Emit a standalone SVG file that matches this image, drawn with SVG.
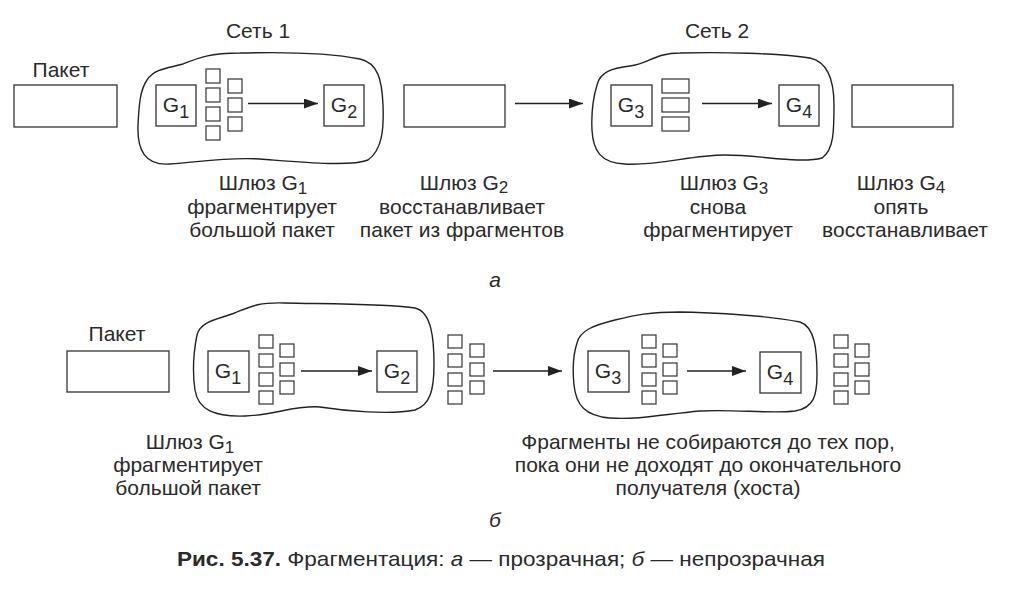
<svg xmlns="http://www.w3.org/2000/svg" width="1020" height="591" viewBox="0 0 1020 591">
<defs>
<marker id="ah" viewBox="0 0 14 10" refX="14" refY="5" markerWidth="14" markerHeight="10" markerUnits="userSpaceOnUse" orient="auto">
<path d="M0,0 L14,5 L0,10 Z" fill="#222"/>
</marker>
<style>
.t{font-family:"Liberation Sans",Arial,sans-serif;font-size:21px;fill:#2a2a2a;text-anchor:middle}
.sub{font-size:18px}
.lsub{font-size:17px}
.box{fill:#fff;stroke:#333;stroke-width:1.3}
.sq{fill:#fff;stroke:#333;stroke-width:1.2}
.cloud{fill:none;stroke:#222;stroke-width:1.4}
.conn{stroke:#222;stroke-width:1.3;fill:none;marker-end:url(#ah)}
.cap{font-family:"Liberation Sans",Arial,sans-serif;font-size:21px;fill:#2a2a2a;text-anchor:middle}
</style>
</defs>
<rect width="1020" height="591" fill="#fff"/>

<!-- part a -->
<g id="net1a">
<path class="cloud" d="M 147,80 C 155,68 170,68 183,64 C 198,58 210,53 240,53 C 280,52 330,53 360,59 C 378,63 382,80 383,105 C 384,130 382,150 368,160 C 350,167 300,162 260,159 C 225,157 200,162 170,164 C 145,166 137,150 138,125 C 139,105 140,90 147,80 Z"/>
<text class="t" x="258" y="38">Сеть 1</text>
</g>
<g id="net2a">
<path class="cloud" d="M 597,85 C 600,72 612,68 630,66 C 648,64 655,53 680,53 C 720,52 780,53 810,58 C 828,62 834,80 834,105 C 834,130 834,150 822,158 C 800,164 760,155 725,155 C 690,155 660,166 625,164 C 600,163 593,150 592,130 C 591,110 594,95 597,85 Z"/>
<text class="t" x="717" y="38">Сеть 2</text>
</g>
<g id="packet-a">
<rect class="box" x="14" y="85" width="103" height="42"/>
<text class="t" x="61" y="77">Пакет</text>
</g>
<g id="g1a">
<rect class="box" x="156" y="85" width="40" height="41"/>
<text class="t" x="176" y="112">G<tspan class="sub" dy="6">1</tspan></text>
</g>
<g id="frags1a">
<rect class="sq" x="206" y="69" width="14" height="14"/>
<rect class="sq" x="206" y="88" width="14" height="14"/>
<rect class="sq" x="206" y="107" width="14" height="14"/>
<rect class="sq" x="206" y="126" width="14" height="14"/>
<rect class="sq" x="228" y="79" width="14" height="14"/>
<rect class="sq" x="228" y="98" width="14" height="14"/>
<rect class="sq" x="228" y="117" width="14" height="14"/>
</g>
<g id="g2a">
<rect class="box" x="324" y="85" width="40" height="41"/>
<text class="t" x="344" y="112">G<tspan class="sub" dy="6">2</tspan></text>
</g>
<g id="packet-a2">
<rect class="box" x="404" y="85" width="101" height="42"/>
</g>
<g id="g3a">
<rect class="box" x="611" y="85" width="41" height="41"/>
<text class="t" x="631" y="112">G<tspan class="sub" dy="6">3</tspan></text>
</g>
<g id="frags3a">
<rect class="sq" x="662" y="79" width="27" height="14"/>
<rect class="sq" x="662" y="98" width="27" height="14"/>
<rect class="sq" x="662" y="117" width="27" height="14"/>
</g>
<g id="g4a">
<rect class="box" x="779" y="85" width="40" height="41"/>
<text class="t" x="799" y="112">G<tspan class="sub" dy="6">4</tspan></text>
</g>
<g id="packet-a3">
<rect class="box" x="852" y="85" width="101" height="42"/>
</g>

<g id="label-g1a">
<text class="t" x="263" y="190">Шлюз G<tspan class="lsub" dy="4">1</tspan></text>
<text class="t" x="262" y="214">фрагментирует</text>
<text class="t" x="262" y="237">большой пакет</text>
</g>
<g id="label-g2a">
<text class="t" x="464" y="190">Шлюз G<tspan class="lsub" dy="3">2</tspan></text>
<text class="t" x="462" y="214">восстанавливает</text>
<text class="t" x="462" y="237">пакет из фрагментов</text>
</g>
<g id="label-g3a">
<text class="t" x="724" y="190">Шлюз G<tspan class="lsub" dy="4">3</tspan></text>
<text class="t" x="718" y="214">снова</text>
<text class="t" x="718" y="237">фрагментирует</text>
</g>
<g id="label-g4a">
<text class="t" x="901" y="190">Шлюз G<tspan class="lsub" dy="3">4</tspan></text>
<text class="t" x="901" y="214">опять</text>
<text class="t" x="905" y="237">восстанавливает</text>
</g>
<text class="t" x="495" y="287" font-style="italic">а</text>

<!-- part b -->
<g id="net1b">
<path class="cloud" d="M 197,335 C 200,322 215,320 232,314 C 248,308 255,302 285,303 C 330,304 390,304 415,308 C 432,312 434,340 434,365 C 434,390 430,405 415,410 C 390,415 345,411 320,407 C 295,405 275,415 245,416 C 215,417 198,410 195,390 C 192,370 194,350 197,335 Z"/>
</g>
<g id="net2b">
<path class="cloud" d="M 577,343 C 580,330 595,325 615,320 C 635,315 650,312 680,312 C 720,313 770,316 800,322 C 815,327 817,350 817,375 C 817,395 814,408 795,411 C 770,414 735,409 700,411 C 665,414 640,420 610,418 C 585,416 576,405 574,385 C 572,365 574,352 577,343 Z"/>
</g>
<g id="packet-b">
<rect class="box" x="67" y="351" width="102" height="41"/>
<text class="t" x="117" y="341">Пакет</text>
</g>
<g id="g1b">
<rect class="box" x="208" y="351" width="41" height="41"/>
<text class="t" x="228" y="378">G<tspan class="sub" dy="6">1</tspan></text>
</g>
<g id="frags1b">
<rect class="sq" x="259" y="335" width="14" height="13"/>
<rect class="sq" x="259" y="354" width="14" height="13"/>
<rect class="sq" x="259" y="373" width="14" height="13"/>
<rect class="sq" x="259" y="391" width="14" height="13"/>
<rect class="sq" x="280" y="344" width="14" height="13"/>
<rect class="sq" x="280" y="363" width="14" height="13"/>
<rect class="sq" x="280" y="381" width="14" height="13"/>
</g>
<g id="g2b">
<rect class="box" x="377" y="351" width="40" height="41"/>
<text class="t" x="397" y="378">G<tspan class="sub" dy="6">2</tspan></text>
</g>
<g id="frags2b">
<rect class="sq" x="448" y="335" width="14" height="13"/>
<rect class="sq" x="448" y="354" width="14" height="13"/>
<rect class="sq" x="448" y="373" width="14" height="13"/>
<rect class="sq" x="448" y="391" width="14" height="13"/>
<rect class="sq" x="470" y="344" width="14" height="13"/>
<rect class="sq" x="470" y="363" width="14" height="13"/>
<rect class="sq" x="470" y="381" width="14" height="13"/>
</g>
<g id="g3b">
<rect class="box" x="588" y="351" width="41" height="41"/>
<text class="t" x="608" y="378">G<tspan class="sub" dy="6">3</tspan></text>
</g>
<g id="frags3b">
<rect class="sq" x="642" y="335" width="14" height="13"/>
<rect class="sq" x="642" y="354" width="14" height="13"/>
<rect class="sq" x="642" y="373" width="14" height="13"/>
<rect class="sq" x="642" y="391" width="14" height="13"/>
<rect class="sq" x="663" y="344" width="14" height="13"/>
<rect class="sq" x="663" y="363" width="14" height="13"/>
<rect class="sq" x="663" y="381" width="14" height="13"/>
</g>
<g id="g4b">
<rect class="box" x="760" y="352" width="41" height="41"/>
<text class="t" x="780" y="379">G<tspan class="sub" dy="6">4</tspan></text>
</g>
<g id="frags4b">
<rect class="sq" x="834" y="335" width="14" height="13"/>
<rect class="sq" x="834" y="354" width="14" height="13"/>
<rect class="sq" x="834" y="373" width="14" height="13"/>
<rect class="sq" x="834" y="391" width="14" height="13"/>
<rect class="sq" x="855" y="344" width="14" height="13"/>
<rect class="sq" x="855" y="363" width="14" height="13"/>
<rect class="sq" x="855" y="381" width="14" height="13"/>
</g>

<g id="label-g1b">
<text class="t" x="190" y="449">Шлюз G<tspan class="lsub" dy="4">1</tspan></text>
<text class="t" x="188" y="472">фрагментирует</text>
<text class="t" x="188" y="495">большой пакет</text>
</g>
<g id="label-host">
<text class="t" x="708" y="449">Фрагменты не собираются до тех пор,</text>
<text class="t" x="708" y="472">пока они не доходят до окончательного</text>
<text class="t" x="708" y="495">получателя (хоста)</text>
</g>
<text class="t" x="495" y="527" font-style="italic">б</text>

<g id="connectors">
<line class="conn" x1="248" y1="103.5" x2="318" y2="103.5"/>
<line class="conn" x1="515" y1="103.5" x2="583" y2="103.5"/>
<line class="conn" x1="702" y1="103.5" x2="772" y2="103.5"/>
<line class="conn" x1="301" y1="371" x2="372" y2="371"/>
<line class="conn" x1="493" y1="371" x2="562" y2="371"/>
<line class="conn" x1="687" y1="371" x2="746" y2="371"/>
</g>

<text class="cap" x="501" y="566" textLength="648" lengthAdjust="spacingAndGlyphs"><tspan font-weight="bold">Рис. 5.37.</tspan> Фрагментация: <tspan font-style="italic">а</tspan> — прозрачная; <tspan font-style="italic">б</tspan> — непрозрачная</text>
</svg>
